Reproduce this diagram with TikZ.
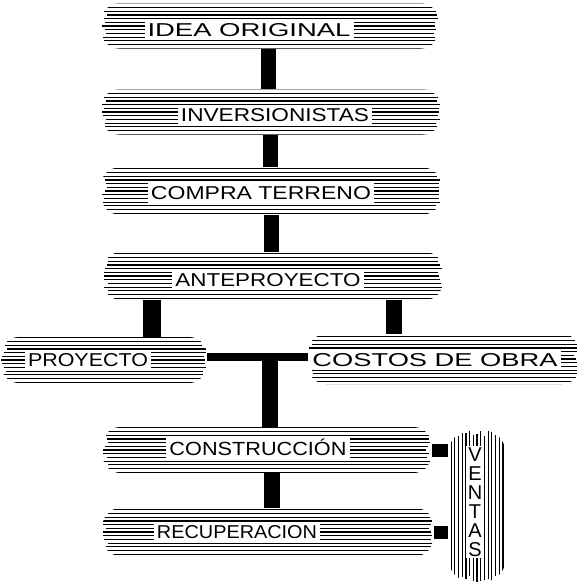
\documentclass[tikz,border=0pt]{standalone}
\usepackage{fontspec}
\setmainfont{Liberation Sans}
\usepackage{graphicx}
\newcommand\lbl[3][13pt]{\resizebox{#2pt}{#1}{#3}}
\begin{document}
\begin{tikzpicture}[x=1pt,y=-1pt]
\pgfmathsetseed{11}
\tikzset{
  plank/.style={rectangle, rounded corners=18pt, inner sep=0pt,
    path picture={\foreach \k in {-10,...,10}{
      \pgfmathsetmacro\ra{rnd*6}\pgfmathsetmacro\rb{rnd*6}
      \draw[line width=1.2pt]
      ([yshift=\k*3.7pt, xshift=\ra pt]path picture bounding box.west) --
      ([yshift=\k*3.7pt, xshift=-\rb pt]path picture bounding box.east);}}},
  vplank/.style={rectangle, rounded corners=24pt, inner sep=0pt,
    path picture={\foreach \k in {-10,...,10}{
      \pgfmathsetmacro\ra{rnd*6}\pgfmathsetmacro\rb{rnd*6}
      \draw[line width=1.2pt]
      ([xshift=\k*3.7pt, yshift=-\ra pt]path picture bounding box.north) --
      ([xshift=\k*3.7pt, yshift=\rb pt]path picture bounding box.south);}}},
  lab/.style={fill=white, inner sep=3pt},
  bar/.style={line width=15pt, black},
}
\useasboundingbox (0,0) rectangle (576,584);
\coordinate (cA) at (268,0);
\coordinate (cB) at (270,0);
\coordinate (cC) at (271,0);
\coordinate (cL) at (152,0);
\coordinate (cR) at (394,0);
\coordinate (cM) at (270,357);
\coordinate (cD) at (272,0);
% planks
\node[plank, minimum width=338pt, minimum height=45pt] (idea) at (270,26) {};
\node[plank, minimum width=340pt, minimum height=45pt] (inv) at (271,112) {};
\node[plank, minimum width=340pt, minimum height=47pt] (compra) at (271,191) {};
\node[plank, minimum width=340pt, minimum height=48pt] (ante) at (273,276) {};
\node[plank, minimum width=206pt, minimum height=46pt] (proy) at (104,360) {};
\node[plank, minimum width=272pt, minimum height=50pt] (costos) at (444,359) {};
\node[plank, minimum width=329pt, minimum height=46pt] (cons) at (267,450) {};
\node[plank, minimum width=331pt, minimum height=48pt] (recu) at (268,532) {};
\node[vplank, minimum width=58pt, minimum height=152pt] (ventas) at (477,506) {};
% labels
\node[lab] (tidea) at (249,30) {\lbl{203}{IDEA ORIGINAL}};
\node[lab] (tinv) at (275,115) {\lbl{188}{INVERSIONISTAS}};
\node[lab] (tcompra) at (261,193) {\lbl{220}{COMPRA TERRENO}};
\node[lab] (tante) at (268,280) {\lbl{185}{ANTEPROYECTO}};
\node[lab] (tproy) at (88,360) {\lbl{120}{PROYECTO}};
\node[lab] (tcostos) at (435,360) {\lbl{245}{COSTOS DE OBRA}};
\node[lab] (tcons) at (258,447) {\lbl[16.5pt]{177}{CONSTRUCCIÓN}};
\node[lab] (trecu) at (237,532) {\lbl{160}{RECUPERACION}};
\node[lab, align=center, font=\fontsize{20}{19}\selectfont, inner sep=2pt] (tventas) at (475,502) {V\\E\\N\\T\\A\\S};
% connectors
\draw[bar] (idea.south -| cA) -- (inv.north -| cA);
\draw[bar] (inv.south -| cB) -- (compra.north -| cB);
\draw[bar] (compra.south -| cC) -- (ante.north -| cC);
\draw[bar, line width=18pt] (ante.south -| cL) -- (proy.north -| cL);
\draw[bar, line width=16pt] (ante.south -| cR) -- (costos.north -| cR);
\draw[bar, line width=8pt] (proy.east |- cM) -- (costos.west |- cM);
\draw[bar, line width=16pt] (cM) -- (cons.north -| cM);
\draw[bar, line width=16pt] (cons.south -| cD) -- (recu.north -| cD);
\draw[bar, line width=13pt] (cons.east) -- (ventas.west |- cons.east);
\draw[bar, line width=13pt] (recu.east) -- (ventas.west |- recu.east);
\end{tikzpicture}
\end{document}
